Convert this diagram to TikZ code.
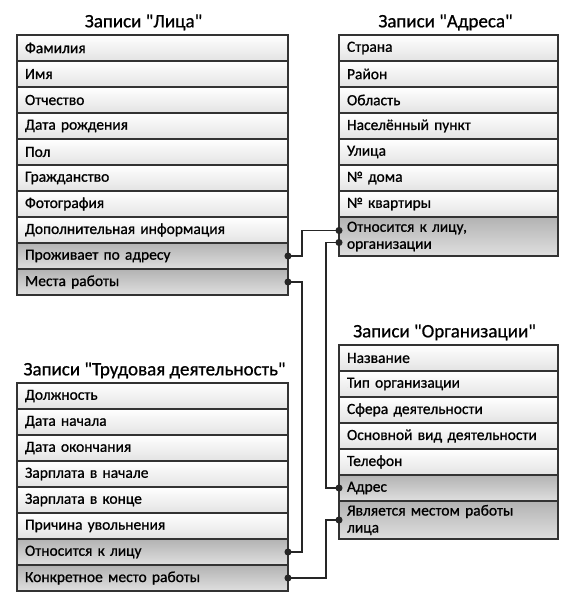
\documentclass[tikz,border=0pt]{standalone}
\usepackage{fontspec}
\setmainfont{Carlito}[Ligatures=TeXOff, FakeBold=0.8]
\usepackage{tikz}
\usetikzlibrary{positioning,arrows.meta}

\begin{document}
\begin{tikzpicture}[
    % Define node styles
    node distance = 0pt,
    font=\fontsize{15.5}{17}\selectfont,
    field/.style={rectangle, draw=black!80, line width=1.2pt, outer sep=0pt, top color=white, bottom color=gray!22, minimum height=26pt, inner xsep=8pt, inner ysep=2pt, align=left},
    key/.style={field, top color=gray!60, bottom color=gray!25},
    wide/.style={text width=255pt},
    narrow/.style={text width=203pt},
    title/.style={font=\fontsize{19}{21}\selectfont},
    link/.style={draw=black!85, line width=1.2pt, {Circle[length=7pt]}-{Circle[length=7pt]}, shorten <=-3.5pt, shorten >=-3.5pt},
]
\useasboundingbox (0,0) rectangle (580pt,-596pt);

% Table "Persons"
\node[field, wide, anchor=north west] (persSurname) at (17pt,-35pt) {Фамилия};
\node[field, wide, below= of persSurname] (persName) {Имя};
\node[field, wide, below= of persName] (persPatr) {Отчество};
\node[field, wide, below= of persPatr] (persBirth) {Дата рождения};
\node[field, wide, below= of persBirth] (persSex) {Пол};
\node[field, wide, below= of persSex] (persCitiz) {Гражданство};
\node[field, wide, below= of persCitiz] (persPhoto) {Фотография};
\node[field, wide, below= of persPhoto] (persInfo) {Дополнительная информация};
\node[key, wide, below= of persInfo] (persAddr) {Проживает по адресу};
\node[key, wide, below= of persAddr] (persWork) {Места работы};
\node[title, above= 1pt of persSurname, xshift=-9pt] {Записи "Лица"};

% Table "Addresses"
\node[field, narrow, anchor=north west] (addrCountry) at (339pt,-35pt) {Страна};
\node[field, narrow, below= of addrCountry] (addrDistr) {Район};
\node[field, narrow, below= of addrDistr] (addrRegion) {Область};
\node[field, narrow, below= of addrRegion] (addrTown) {Населённый пункт};
\node[field, narrow, below= of addrTown] (addrStreet) {Улица};
\node[field, narrow, below= of addrStreet] (addrHouse) {№ дома};
\node[field, narrow, below= of addrHouse] (addrFlat) {№ квартиры};
\node[key, narrow, below= of addrFlat, minimum height=39pt] (addrRef) {Относится к лицу,\\организации};
\node[title, above= 1pt of addrCountry, xshift=-3pt] {Записи "Адреса"};

% Table "Organizations"
\node[field, narrow, anchor=north west] (orgName) at (339pt,-345pt) {Название};
\node[field, narrow, below= of orgName] (orgType) {Тип организации};
\node[field, narrow, below= of orgType] (orgSphere) {Сфера деятельности};
\node[field, narrow, below= of orgSphere] (orgMain) {Основной вид деятельности};
\node[field, narrow, below= of orgMain] (orgPhone) {Телефон};
\node[key, narrow, below= of orgPhone] (orgAddr) {Адрес};
\node[key, narrow, below= of orgAddr, minimum height=38pt] (orgJob) {Является местом работы\\лица};
\node[title, above= 1pt of orgName, xshift=-4pt] {Записи "Организации"};

% Table "Employment"
\node[field, wide, anchor=north west] (jobPost) at (17pt,-383pt) {Должность};
\node[field, wide, below= of jobPost] (jobStart) {Дата начала};
\node[field, wide, below= of jobStart] (jobEnd) {Дата окончания};
\node[field, wide, below= of jobEnd] (jobPayStart) {Зарплата в начале};
\node[field, wide, below= of jobPayStart] (jobPayEnd) {Зарплата в конце};
\node[field, wide, below= of jobPayEnd] (jobReason) {Причина увольнения};
\node[key, wide, below= of jobReason] (jobPers) {Относится к лицу};
\node[key, wide, below= of jobPers] (jobPlace) {Конкретное место работы};
\node[title, above= 1pt of jobPost, xshift=2pt] {Записи "Трудовая деятельность"};

% Links between tables
\draw[link] (persAddr.east) -- ++(14pt,0) |- ([yshift=6pt]addrRef.west);
\draw[link] ([yshift=-6pt]addrRef.west) -- ++(-13pt,0) |- (orgAddr.west);
\draw[link] (persWork.east) -- ++(14pt,0) |- (jobPers.east);
\draw[link] (orgJob.west) -- ++(-13pt,0) |- (jobPlace.east);

\end{tikzpicture}
\end{document}
